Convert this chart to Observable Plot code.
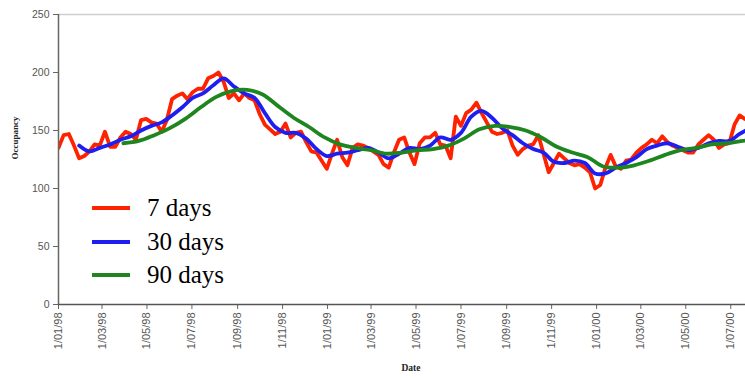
<!DOCTYPE html>
<html>
<head>
<meta charset="utf-8">
<script src="https://cdn.jsdelivr.net/npm/d3@7"></script>
<script src="https://cdn.jsdelivr.net/npm/@observablehq/plot@0.6"></script>
<style>
  html, body { margin: 0; padding: 0; background: #fff; }
  #wrap { position: relative; width: 745px; height: 378px; }
  .leg { position: absolute; left: 92px; height: 30px; display: flex; align-items: center;
         font-family: "Liberation Serif", "Times New Roman", serif; font-size: 25px; color: #000; }
  .leg span.sw { display: inline-block; width: 38px; height: 4px; margin-right: 17px; }
</style>
</head>
<body>
<div id="wrap"></div>
<script>
// ---- data ----
const seriesNames = ["7 days", "30 days", "90 days"];
const seriesColors = ["#ff2200", "#1e1ef0", "#1f861f"];

// 7-day average, weekly values starting 1/01/98
const start7 = "1998-01-01";
const step7 = 7;
const values7 = [
  135,146,147,137,126,128,132,138,137,149,136,136,144,149,147,142,159,160,157,156,
  149,159,177,180,182,177,183,186,186,195,197,200,192,178,182,176,182,178,176,164,
  155,151,147,149,156,144,148,149,140,132,131,124,117,130,142,127,120,135,138,137,
  135,132,129,121,118,131,142,144,131,121,139,144,144,148,138,137,126,162,154,165,
  168,174,165,157,149,147,148,150,137,129,134,137,138,146,130,114,122,130,126,122,
  120,121,118,114,100,103,118,129,119,117,124,125,131,135,138,142,139,145,140,137,
  135,133,131,131,138,142,146,142,135,138,139,155,163,160
];

// 30-day average, fortnightly values starting 29/01/98
const start30 = "1998-01-29";
const step30 = 14;
const values30 = [
  137,132,135,138,142,145,150,154,157,163,170,178,182,189,195,188,182,178,165,153,
  148,148,143,134,128,130,131,133,135,131,126,130,135,134,137,144,142,148,162,167,
  161,152,146,139,134,131,123,122,124,122,113,113,118,122,127,134,137,139,136,133,
  135,139,141,141,147,152
];

// 90-day average, 3-weekly values starting 30/03/98
const start90 = "1998-03-30";
const step90 = 21;
const values90 = [
  139,141,146,152,160,170,179,184,185,181,171,161,153,144,138,135,133,130,131,133,
  134,137,143,151,154,153,150,144,136,131,127,119,118,120,124,129,133,135,138,139,
  141,142
];

const xTickDates = [
  "1998-01-01","1998-03-01","1998-05-01","1998-07-01","1998-09-01","1998-11-01",
  "1999-01-01","1999-03-01","1999-05-01","1999-07-01","1999-09-01","1999-11-01",
  "2000-01-01","2000-03-01","2000-05-01","2000-07-01"
];
const yTicks = [0, 50, 100, 150, 200, 250];
const xDomain = ["1998-01-01", "2000-07-21"];

// ---- build table ----
function build(name, startStr, step, vals) {
  const s = new Date(startStr + "T00:00:00Z");
  return vals.map((v, i) => ({series: name, date: d3.utcDay.offset(s, i * step), value: v}));
}
const d7 = build(seriesNames[0], start7, step7, values7);
const d30 = build(seriesNames[1], start30, step30, values30);
const d90 = build(seriesNames[2], start90, step90, values90);

const parse = s => new Date(s + "T00:00:00Z");
const labelFont = "Liberation Sans, Arial, sans-serif";

const chart = Plot.plot({
  width: 745,
  height: 378,
  marginLeft: 58,
  marginRight: 0,
  marginTop: 14,
  marginBottom: 74,
  style: {background: "#fff", fontFamily: labelFont},
  x: {type: "utc", domain: xDomain.map(parse)},
  y: {domain: [0, 250]},
  marks: [
    Plot.ruleY([250], {stroke: "#cfcfcf", strokeWidth: 1.5}),
    Plot.axisY({ticks: yTicks, tickSize: 5, tickPadding: 4, fontSize: 10.5, color: "#555", stroke: "#666", label: null}),
    Plot.axisX({ticks: xTickDates.map(parse), tickFormat: d3.utcFormat("%-d/%m/%y"), tickRotate: -90,
                tickSize: 5, tickPadding: 3, fontSize: 11, color: "#555", stroke: "#666", label: null}),
    Plot.line(d7, {x: "date", y: "value", stroke: seriesColors[0], strokeWidth: 3.8, strokeLinejoin: "round", curve: "linear", clip: true}),
    Plot.line(d30, {x: "date", y: "value", stroke: seriesColors[1], strokeWidth: 3.8, curve: "catmull-rom", clip: true}),
    Plot.line(d90, {x: "date", y: "value", stroke: seriesColors[2], strokeWidth: 3.8, curve: "catmull-rom", clip: true}),
    Plot.ruleX([parse(xDomain[0])], {stroke: "#666", strokeWidth: 1.5}),
    Plot.ruleY([0], {stroke: "#555", strokeWidth: 1.5}),
    Plot.text(["Occupancy"], {text: d => d, frameAnchor: "left", dx: -43, rotate: -90,
      fontFamily: "Liberation Serif, serif", fontWeight: "bold", fontSize: 9, fill: "#222"}),
    Plot.text(["Date"], {text: d => d, frameAnchor: "bottom", dx: 9, dy: 66,
      fontFamily: "Liberation Serif, serif", fontWeight: "bold", fontSize: 9.5, fill: "#222"})
  ]
});

const wrap = document.getElementById("wrap");
wrap.appendChild(chart);

// legend inside the plot area
const legTops = [193, 227, 260];
seriesNames.forEach((n, i) => {
  const row = document.createElement("div");
  row.className = "leg";
  row.style.top = legTops[i] + "px";
  const sw = document.createElement("span");
  sw.className = "sw";
  sw.style.background = seriesColors[i];
  row.appendChild(sw);
  row.appendChild(document.createTextNode(n));
  wrap.appendChild(row);
});
</script>
</body>
</html>
